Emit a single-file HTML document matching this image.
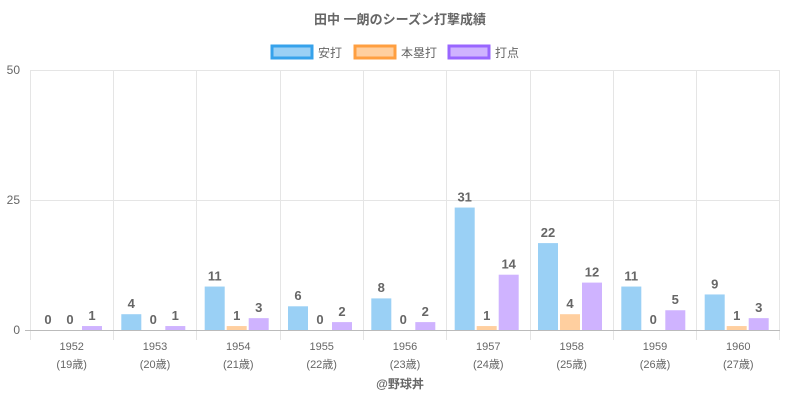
<!DOCTYPE html>
<html><head><meta charset="utf-8"><style>
body{margin:0;background:#fff;font-family:"Liberation Sans","Noto Sans CJK JP",sans-serif}
</style></head><body>
<svg width="800" height="400" xmlns="http://www.w3.org/2000/svg" font-family="Liberation Sans, Noto Sans CJK JP, sans-serif">
<text x="400" y="24" text-anchor="middle" font-size="13" font-weight="bold" fill="#666">田中 一朗のシーズン打撃成績</text>
<rect x="272" y="46" width="40" height="12" fill="#9ad0f5" stroke="#36a2eb" stroke-width="3"/>
<text x="318" y="57" font-size="12" fill="#666">安打</text>
<rect x="355" y="46" width="40" height="12" fill="#ffcf9f" stroke="#ff9f40" stroke-width="3"/>
<text x="401" y="57" font-size="12" fill="#666">本塁打</text>
<rect x="449" y="46" width="40" height="12" fill="#cfb3ff" stroke="#9966ff" stroke-width="3"/>
<text x="495" y="57" font-size="12" fill="#666">打点</text>
<g stroke="#e5e5e5" stroke-width="1">
<line x1="30" y1="70.5" x2="780" y2="70.5"/>
<line x1="30" y1="200.5" x2="780" y2="200.5"/>
<line x1="30.5" y1="70" x2="30.5" y2="340"/>
<line x1="113.5" y1="70" x2="113.5" y2="340"/>
<line x1="196.5" y1="70" x2="196.5" y2="340"/>
<line x1="280.5" y1="70" x2="280.5" y2="340"/>
<line x1="363.5" y1="70" x2="363.5" y2="340"/>
<line x1="446.5" y1="70" x2="446.5" y2="340"/>
<line x1="530.5" y1="70" x2="530.5" y2="340"/>
<line x1="613.5" y1="70" x2="613.5" y2="340"/>
<line x1="696.5" y1="70" x2="696.5" y2="340"/>
<line x1="779.5" y1="70" x2="779.5" y2="340"/>
</g>
<line x1="25" y1="330.5" x2="780" y2="330.5" stroke="#bbb"/>
<g font-size="12" fill="#666" text-anchor="end">
<text x="20" y="74">50</text><text x="20" y="204">25</text><text x="20" y="334">0</text>
</g>
<g>
<rect x="82" y="326.05" width="20" height="3.95" fill="#cfb3ff"/>
<rect x="121.3" y="314.2" width="20" height="15.8" fill="#9ad0f5"/>
<rect x="165.3" y="326.05" width="20" height="3.95" fill="#cfb3ff"/>
<rect x="204.7" y="286.55" width="20" height="43.45" fill="#9ad0f5"/>
<rect x="226.7" y="326.05" width="20" height="3.95" fill="#ffcf9f"/>
<rect x="248.7" y="318.15" width="20" height="11.85" fill="#cfb3ff"/>
<rect x="288" y="306.3" width="20" height="23.7" fill="#9ad0f5"/>
<rect x="332" y="322.1" width="20" height="7.9" fill="#cfb3ff"/>
<rect x="371.3" y="298.4" width="20" height="31.6" fill="#9ad0f5"/>
<rect x="415.3" y="322.1" width="20" height="7.9" fill="#cfb3ff"/>
<rect x="454.7" y="207.55" width="20" height="122.45" fill="#9ad0f5"/>
<rect x="476.7" y="326.05" width="20" height="3.95" fill="#ffcf9f"/>
<rect x="498.7" y="274.7" width="20" height="55.3" fill="#cfb3ff"/>
<rect x="538" y="243.1" width="20" height="86.9" fill="#9ad0f5"/>
<rect x="560" y="314.2" width="20" height="15.8" fill="#ffcf9f"/>
<rect x="582" y="282.6" width="20" height="47.4" fill="#cfb3ff"/>
<rect x="621.3" y="286.55" width="20" height="43.45" fill="#9ad0f5"/>
<rect x="665.3" y="310.25" width="20" height="19.75" fill="#cfb3ff"/>
<rect x="704.7" y="294.45" width="20" height="35.55" fill="#9ad0f5"/>
<rect x="726.7" y="326.05" width="20" height="3.95" fill="#ffcf9f"/>
<rect x="748.7" y="318.15" width="20" height="11.85" fill="#cfb3ff"/>
</g>
<g font-size="13" font-weight="bold" fill="#666" text-anchor="middle">
<text x="48" y="324">0</text><text x="70" y="324">0</text><text x="92" y="320">1</text>
<text x="131.3" y="308">4</text><text x="153.3" y="324">0</text><text x="175.3" y="320">1</text>
<text x="214.7" y="280.5">11</text><text x="236.7" y="320">1</text><text x="258.7" y="312">3</text>
<text x="298" y="300">6</text><text x="320" y="324">0</text><text x="342" y="316">2</text>
<text x="381.3" y="292">8</text><text x="403.3" y="324">0</text><text x="425.3" y="316">2</text>
<text x="464.7" y="201.5">31</text><text x="486.7" y="320">1</text><text x="508.7" y="268.5">14</text>
<text x="548" y="237">22</text><text x="570" y="308">4</text><text x="592" y="276.5">12</text>
<text x="631.3" y="280.5">11</text><text x="653.3" y="324">0</text><text x="675.3" y="304">5</text>
<text x="714.7" y="288.5">9</text><text x="736.7" y="320">1</text><text x="758.7" y="312">3</text>
</g>
<g font-size="11" fill="#666" text-anchor="middle">
<text x="71.7" y="350">1952</text><text x="71.7" y="368">(19歳)</text>
<text x="155" y="350">1953</text><text x="155" y="368">(20歳)</text>
<text x="238.3" y="350">1954</text><text x="238.3" y="368">(21歳)</text>
<text x="321.7" y="350">1955</text><text x="321.7" y="368">(22歳)</text>
<text x="405" y="350">1956</text><text x="405" y="368">(23歳)</text>
<text x="488.3" y="350">1957</text><text x="488.3" y="368">(24歳)</text>
<text x="571.7" y="350">1958</text><text x="571.7" y="368">(25歳)</text>
<text x="655" y="350">1959</text><text x="655" y="368">(26歳)</text>
<text x="738.3" y="350">1960</text><text x="738.3" y="368">(27歳)</text>
</g>
<text x="400" y="388" text-anchor="middle" font-size="12" font-weight="bold" fill="#666">@野球丼</text>
</svg>
</body></html>
